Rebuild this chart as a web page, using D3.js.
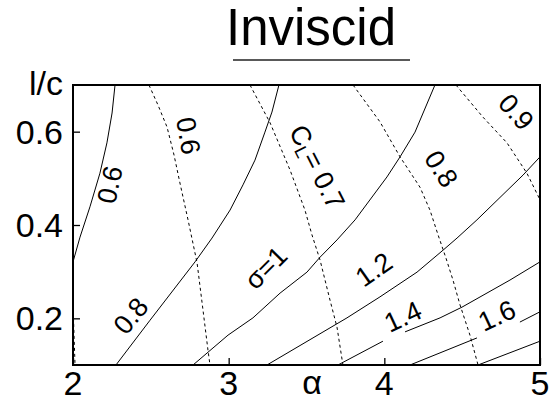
<!DOCTYPE html>
<html>
<head>
<meta charset="utf-8">
<script src="https://cdn.jsdelivr.net/npm/d3@7"></script>
<style>
  html, body { margin: 0; padding: 0; background: #fff; }
  svg { display: block; }
  text { font-family: "Liberation Sans", Arial, sans-serif; fill: #000; }
</style>
</head>
<body>
<svg id="chart" width="553" height="403"></svg>
<script>
// ---- data -------------------------------------------------------------
// angle of attack (alpha) and chord ratio (l/c) extents
const alphaDomain = [2, 5];
const lcDomain = [0.1, 0.7];

const alphaMajor = [2, 3, 4, 5];
const alphaTickLabels = ["2", "3", "4", "5"];
const lcMajor = [0.2, 0.4, 0.6];
const lcTickLabels = ["0.2", "0.4", "0.6"];

// solid contours: sigma (each contour may have several pieces)
const sigma06 = [[[2.0,0.321],[2.045,0.374],[2.109,0.439],[2.173,0.511],[2.218,0.576],[2.251,0.640],[2.270,0.700]]];
const sigma08 = [[[2.276,0.100],[2.495,0.196],[2.784,0.321],[2.893,0.372],[3.009,0.432],[3.092,0.486],[3.169,0.539],[3.233,0.599],[3.278,0.642],[3.323,0.700]]];
const sigma10 = [[[2.771,0.100],[2.996,0.164],[3.156,0.201],[3.330,0.254],[3.503,0.299],[3.587,0.331],[3.696,0.368],[3.812,0.411],[4.017,0.503],[4.101,0.546],[4.197,0.599],[4.325,0.700]]];
const sigma12 = [[[3.246,0.100],[3.760,0.201],[3.972,0.246],[4.210,0.299],[4.377,0.346],[4.467,0.372],[4.595,0.411],[4.891,0.507],[5.0,0.546]]];
const sigma14 = [[[3.702,0.100],[3.991,0.151]],
                 [[4.133,0.171],[4.358,0.201],[4.499,0.224],[4.807,0.282],[5.0,0.321]]];
const sigma16 = [[[4.165,0.100],[4.595,0.158]],
                 [[4.871,0.192],[5.0,0.214]]];
const sigma18 = [[[4.602,0.100],[5.0,0.151]]];

// dashed contours: lift coefficient C_L
const cl05 = [[[2.003,0.201],[2.013,0.100]]];
const cl06 = [[[2.488,0.700],[2.546,0.657],[2.604,0.610],[2.649,0.550],[2.687,0.490],[2.739,0.411],[2.797,0.319],[2.835,0.218],[2.867,0.132],[2.880,0.100]]];
const cl07 = [[[3.137,0.700],[3.266,0.619],[3.394,0.518],[3.490,0.432],[3.535,0.379],[3.587,0.325],[3.651,0.239],[3.696,0.181],[3.734,0.100]]];
const cl08 = [[[3.799,0.700],[3.972,0.621],[4.101,0.546],[4.229,0.481],[4.293,0.432],[4.345,0.379],[4.396,0.329],[4.441,0.282],[4.486,0.229],[4.550,0.164],[4.602,0.100]]];
const cl09 = [[[4.460,0.700],[4.634,0.631],[4.788,0.576],[4.916,0.511],[5.0,0.454]]];

const solidContours = [sigma06, sigma08, sigma10, sigma12, sigma14, sigma16, sigma18];
const dashedContours = [cl05, cl06, cl07, cl08, cl09];

// contour labels: text, anchor (alpha, l/c), rotation in degrees
const contourLabels = [
  { text: "0.6", a: 2.238, l: 0.486, rot: -78 },
  { text: "0.8", a: 2.373, l: 0.205, rot: -50 },
  { text: "σ=1", a: 3.240, l: 0.308, rot: -45 },
  { text: "1.2", a: 3.934, l: 0.304, rot: -35 },
  { text: "1.4", a: 4.120, l: 0.203, rot: -25 },
  { text: "1.6", a: 4.724, l: 0.205, rot: -25 },
  { text: "0.6", a: 2.739, l: 0.591, rot: 80 },
  { text: "CL", a: 3.567, l: 0.524, rot: 63 },
  { text: "0.8", a: 4.364, l: 0.520, rot: 57 },
  { text: "0.9", a: 4.846, l: 0.642, rot: 48 }
];

// ---- layout -----------------------------------------------------------
const svg = d3.select("#chart");
const x = d3.scaleLinear().domain(alphaDomain).range([73, 540]);
const y = d3.scaleLinear().domain(lcDomain).range([365, 85]);

const line = d3.line().x(d => x(d[0])).y(d => y(d[1]));

// title with rule underneath
svg.append("text")
  .attr("x", 311).attr("y", 45)
  .attr("text-anchor", "middle")
  .style("font-size", "51px")
  .text("Inviscid");
svg.append("line")
  .attr("x1", 233).attr("x2", 410)
  .attr("y1", 60).attr("y2", 60)
  .attr("stroke", "#222").attr("stroke-width", 1.5);

// contour lines
const plot = svg.append("g");
solidContours.forEach(c => c.forEach(seg => {
  plot.append("path").attr("d", line(seg))
    .attr("fill", "none").attr("stroke", "#000").attr("stroke-width", 1);
}));
dashedContours.forEach(c => c.forEach(seg => {
  plot.append("path").attr("d", line(seg))
    .attr("fill", "none").attr("stroke", "#000").attr("stroke-width", 1)
    .attr("stroke-dasharray", "3,3");
}));

// contour labels
contourLabels.forEach(lb => {
  const t = plot.append("text")
    .attr("text-anchor", "middle")
    .attr("dominant-baseline", "central")
    .attr("transform", `translate(${x(lb.a)},${y(lb.l)}) rotate(${lb.rot})`)
    .style("font-size", "27px");
  if (lb.text === "CL") {
    t.append("tspan").text("C");
    t.append("tspan").attr("dy", 7).style("font-size", "18px").text("L");
    t.append("tspan").attr("dy", -7).text("= 0.7");
  } else {
    t.text(lb.text);
  }
});

// frame
const [x0, x1] = x.range();
const [y0, y1] = y.range();
svg.append("rect")
  .attr("x", x0).attr("y", y1)
  .attr("width", x1 - x0).attr("height", y0 - y1)
  .attr("fill", "none").attr("stroke", "#000").attr("stroke-width", 2);

// inward ticks
const alphaMinor = d3.range(0, 16).map(i => 2 + i * 0.2);
const lcMinor = d3.range(0, 15).map(i => 0.12 + i * 0.04);

const bottom = svg.append("g").attr("transform", `translate(0,${y0})`);
bottom.call(d3.axisBottom(x).tickValues(alphaMinor).tickSize(-4).tickFormat(""));
bottom.call(d3.axisBottom(x).tickValues(alphaMajor).tickSize(-7).tickFormat(""));
bottom.selectAll(".domain").remove();
bottom.selectAll("line").attr("stroke", "#000").attr("stroke-width", 1.3);

const left = svg.append("g").attr("transform", `translate(${x0},0)`);
left.call(d3.axisLeft(y).tickValues(lcMinor).tickSize(-4).tickFormat(""));
left.call(d3.axisLeft(y).tickValues(lcMajor).tickSize(-7).tickFormat(""));
left.selectAll(".domain").remove();
left.selectAll("line").attr("stroke", "#000").attr("stroke-width", 1.3);

// tick labels
svg.append("g").selectAll("text").data(alphaMajor).join("text")
  .attr("x", d => x(d)).attr("y", 395)
  .attr("text-anchor", "middle")
  .style("font-size", "34px")
  .text((d, i) => alphaTickLabels[i]);
svg.append("g").selectAll("text").data(lcMajor).join("text")
  .attr("x", 63).attr("y", d => y(d) + 12)
  .attr("text-anchor", "end")
  .style("font-size", "34px")
  .text((d, i) => lcTickLabels[i]);

// axis titles
svg.append("text")
  .attr("x", 312).attr("y", 394)
  .attr("text-anchor", "middle")
  .style("font-size", "34px")
  .text("α");
svg.append("text")
  .attr("x", 63).attr("y", 95)
  .attr("text-anchor", "end")
  .style("font-size", "34px")
  .text("l/c");
</script>
</body>
</html>
